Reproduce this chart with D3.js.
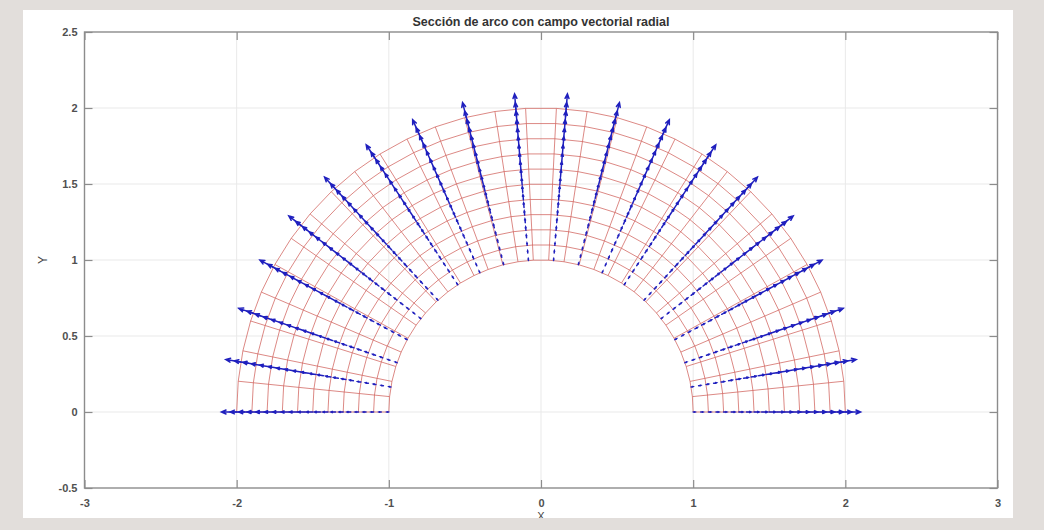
<!DOCTYPE html>
<html>
<head>
<meta charset="utf-8">
<script src="https://cdn.jsdelivr.net/npm/d3@7"></script>
<style>
  html, body { margin: 0; padding: 0; background: #e2dedb; }
  svg { display: block; }
</style>
</head>
<body>
<svg id="chart" width="1044" height="530"></svg>
<script>
// ---- data ----
const titleText = "Sección de arco con campo vectorial radial";
const xLabel = "X";
const yLabel = "Y";
const xTicks = [-3, -2, -1, 0, 1, 2, 3];
const yTicks = [-0.5, 0, 0.5, 1, 1.5, 2, 2.5];
const xDomain = [-3, 3];
const yDomain = [-0.5, 2.5];

// mesh of the arc section (radii and angles in degrees)
const meshRadii = [1.0, 1.1, 1.2, 1.3, 1.4, 1.5, 1.6, 1.7, 1.8, 1.9, 2.0];
const meshAngles = [0, 5.81, 11.61, 17.42, 23.23, 29.03, 34.84, 40.65, 46.45, 52.26,
  58.06, 63.87, 69.68, 75.48, 81.29, 87.10, 92.90, 98.71, 104.52, 110.32,
  116.13, 121.94, 127.74, 133.55, 139.35, 145.16, 150.97, 156.77, 162.58, 168.39,
  174.19, 180];

// radial vector field sample positions and magnitudes
const arrowAngles = [0, 9.47, 18.95, 28.42, 37.89, 47.37, 56.84, 66.32, 75.79, 85.26,
  94.74, 104.21, 113.68, 123.16, 132.63, 142.11, 151.58, 161.05, 170.53, 180];
const arrowRadii = [1.00, 1.05, 1.10, 1.15, 1.20, 1.25, 1.30, 1.35, 1.40, 1.45, 1.50,
  1.55, 1.60, 1.65, 1.70, 1.75, 1.80, 1.85, 1.90, 1.95, 2.00];
const arrowLengths = [0.0125, 0.0145, 0.0166, 0.019, 0.0216, 0.0244, 0.0275, 0.0308, 0.0343, 0.0381, 0.0422,
  0.0466, 0.0512, 0.0562, 0.0614, 0.067, 0.0729, 0.0792, 0.0857, 0.0927, 0.1];

// ---- layout ----
const svg = d3.select("#chart");
const panel = { x: 23, y: 10, w: 990, h: 508 };
const plot = { left: 84.5, right: 997.5, top: 32, bottom: 488 };

svg.append("rect").attr("x", panel.x).attr("y", panel.y)
  .attr("width", panel.w).attr("height", panel.h).attr("fill", "#ffffff");

const x = d3.scaleLinear().domain(xDomain).range([plot.left, plot.right]);
const y = d3.scaleLinear().domain(yDomain).range([plot.bottom, plot.top]);
const rad = d => d * Math.PI / 180;

// grid
const grid = svg.append("g").attr("stroke", "#e9e9e9").attr("stroke-width", 1);
grid.selectAll("line.gx").data(xTicks.slice(1, -1)).join("line")
  .attr("x1", d => x(d)).attr("x2", d => x(d)).attr("y1", plot.top).attr("y2", plot.bottom);
grid.selectAll("line.gy").data(yTicks.slice(1, -1)).join("line")
  .attr("y1", d => y(d)).attr("y2", d => y(d)).attr("x1", plot.left).attr("x2", plot.right);

// mesh
const mesh = svg.append("g").attr("fill", "none").attr("stroke", "#d0625c")
  .attr("stroke-width", 1).attr("stroke-opacity", 0.75);
const arcLine = d3.line().x(d => x(d[0])).y(d => y(d[1]));
mesh.selectAll("path.arc").data(meshRadii).join("path")
  .attr("d", r => arcLine(meshAngles.map(a => [r * Math.cos(rad(a)), r * Math.sin(rad(a))])));
mesh.selectAll("path.spoke").data(meshAngles).join("path")
  .attr("d", a => arcLine([meshRadii[0], meshRadii[meshRadii.length - 1]]
    .map(r => [r * Math.cos(rad(a)), r * Math.sin(rad(a))])));

// quiver arrows
const arrows = [];
arrowAngles.forEach(a => {
  arrowRadii.forEach((r, i) => arrows.push({ a, r, L: arrowLengths[i] }));
});
const arrowPath = d => {
  const c = Math.cos(rad(d.a)), s = Math.sin(rad(d.a));
  const x0 = d.r * c, y0 = d.r * s;
  const x1 = (d.r + d.L) * c, y1 = (d.r + d.L) * s;
  const hl = d.L * 0.3, hw = d.L * 0.13;
  const bx = x1 - hl * c, by = y1 - hl * s;
  const px = -s * hw, py = c * hw;
  return `M${x(x0)},${y(y0)}L${x(x1)},${y(y1)}` +
    `M${x(bx + px)},${y(by + py)}L${x(x1)},${y(y1)}L${x(bx - px)},${y(by - py)}`;
};
svg.append("g").attr("fill", "none").attr("stroke", "#1f1fbe").attr("stroke-width", 1.5)
  .attr("stroke-linecap", "round")
  .selectAll("path").data(arrows).join("path").attr("d", arrowPath);

// axes box
const axisColor = "#8c8c8c";
svg.append("rect").attr("x", plot.left).attr("y", plot.top)
  .attr("width", plot.right - plot.left).attr("height", plot.bottom - plot.top)
  .attr("fill", "none").attr("stroke", axisColor).attr("stroke-width", 1.4);

// axes with inward ticks
const tickLen = 8;
const fontFam = "'Liberation Sans', Arial, sans-serif";
const xAxisB = d3.axisBottom(x).tickValues(xTicks).tickSize(-tickLen).tickPadding(11).tickFormat(d => String(d));
const xAxisT = d3.axisTop(x).tickValues(xTicks).tickSize(-tickLen).tickFormat("");
const yAxisL = d3.axisLeft(y).tickValues(yTicks).tickSize(-tickLen).tickPadding(7).tickFormat(d => String(d));
const yAxisR = d3.axisRight(y).tickValues(yTicks).tickSize(-tickLen).tickFormat("");

function styleAxis(g) {
  g.select(".domain").remove();
  g.selectAll(".tick line").attr("stroke", axisColor).attr("stroke-width", 1.2);
  g.selectAll(".tick text").attr("fill", "#505050").style("font-family", fontFam)
    .style("font-size", "11px").style("font-weight", "bold");
}
svg.append("g").attr("transform", `translate(0,${plot.bottom})`).call(xAxisB).call(styleAxis);
svg.append("g").attr("transform", `translate(0,${plot.top})`).call(xAxisT).call(styleAxis);
svg.append("g").attr("transform", `translate(${plot.left},0)`).call(yAxisL).call(styleAxis);
svg.append("g").attr("transform", `translate(${plot.right},0)`).call(yAxisR).call(styleAxis);

// title and labels
svg.append("text").attr("x", (plot.left + plot.right) / 2).attr("y", 26)
  .attr("text-anchor", "middle").style("font-family", fontFam).style("font-size", "12.5px")
  .style("font-weight", "bold").attr("fill", "#333").text(titleText);
svg.append("text").attr("x", (plot.left + plot.right) / 2).attr("y", 520)
  .attr("text-anchor", "middle").style("font-family", fontFam).style("font-size", "11px")
  .attr("fill", "#444").text(xLabel);
svg.append("text").attr("transform", `translate(47,260) rotate(-90)`)
  .attr("text-anchor", "middle").style("font-family", fontFam).style("font-size", "12px")
  .attr("fill", "#444").text(yLabel);

// area below the panel (X label is clipped by the panel edge in the reference)
svg.append("rect").attr("x", 0).attr("y", panel.y + panel.h).attr("width", 1044)
  .attr("height", 530 - panel.y - panel.h).attr("fill", "#e2dedb");
</script>
</body>
</html>
